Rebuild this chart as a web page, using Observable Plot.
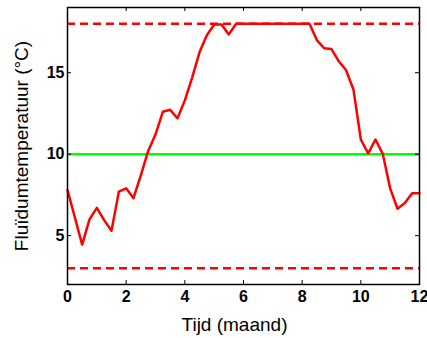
<!DOCTYPE html>
<html>
<head>
<meta charset="utf-8">
<script src="https://cdn.jsdelivr.net/npm/d3@7"></script>
<script src="https://cdn.jsdelivr.net/npm/@observablehq/plot@0.6"></script>
<style>
  html, body { margin: 0; padding: 0; background: #fff; }
</style>
</head>
<body>
<div id="chart"></div>
<script>
// Time (months) and fluid temperature (°C)
const months = [0, 0.5, 0.75, 1.0, 1.25, 1.5, 1.75, 2.0, 2.25, 2.5, 2.75, 3.0, 3.25, 3.5, 3.75, 4.0, 4.25, 4.5, 4.75, 5.0, 5.25, 5.5, 5.75, 6.0, 6.25, 6.5, 6.75, 7.0, 7.25, 7.5, 7.75, 8.0, 8.25, 8.5, 8.75, 9.0, 9.25, 9.5, 9.75, 10.0, 10.25, 10.5, 10.75, 11.0, 11.25, 11.5, 11.75, 12.0];
const temps  = [7.8, 4.45, 6.0, 6.7, 5.95, 5.3, 7.7, 7.9, 7.3, 8.7, 10.2, 11.2, 12.6, 12.72, 12.2, 13.3, 14.7, 16.25, 17.3, 17.95, 17.95, 17.35, 18, 18, 18, 18, 18, 18, 18, 18, 18, 18, 18, 17.0, 16.5, 16.45, 15.7, 15.15, 13.95, 10.9, 10.05, 10.9, 10.0, 7.9, 6.65, 7.0, 7.6, 7.6];
const limits = [3, 18];      // dashed red limits
const target = [10];         // green reference
const xTicks = [0, 2, 4, 6, 8, 10, 12];
const yTicks = [5, 10, 15];
const xLabel = "Tijd (maand)";
const yLabel = "Fluïdumtemperatuur (°C)";

const data = months.map((m, i) => ({month: m, temp: temps[i]}));

const W = 427, H = 338;
const mL = 67, mR = 8, mT = 7, mB = 54;
const fw = W - mL - mR, fh = H - mT - mB;
const tk = 4;

const chart = Plot.plot({
  width: W,
  height: H,
  marginLeft: mL,
  marginRight: mR,
  marginTop: mT,
  marginBottom: mB,
  style: {fontFamily: "'Liberation Sans', Arial, sans-serif", background: "#fff", overflow: "visible"},
  x: {domain: [0, 12]},
  y: {domain: [2, 19]},
  marks: [
    Plot.ruleY(limits, {y: d => d, stroke: "#ff0000", strokeWidth: 2.5, strokeDasharray: "8,5"}),
    Plot.ruleY(target, {y: d => d, stroke: "#00ff00", strokeWidth: 2.5}),
    Plot.line(data, {x: "month", y: "temp", stroke: "#ff0000", strokeWidth: 2.5, strokeLinejoin: "round"}),
    // inward ticks on all four sides
    Plot.ruleX(xTicks, {x: d => d, insetTop: fh - tk, stroke: "#000", strokeWidth: 1}),
    Plot.ruleX(xTicks, {x: d => d, insetBottom: fh - tk, stroke: "#000", strokeWidth: 1}),
    Plot.ruleY(yTicks, {y: d => d, insetRight: fw - tk, stroke: "#000", strokeWidth: 1}),
    Plot.ruleY(yTicks, {y: d => d, insetLeft: fw - tk, stroke: "#000", strokeWidth: 1}),
    Plot.frame({stroke: "#000", strokeWidth: 1.5}),
    Plot.axisX(xTicks, {anchor: "bottom", tickSize: 0, tickPadding: 6, label: null, fontSize: 16, fontWeight: "bold", fill: "#000"}),
    Plot.axisY(yTicks, {anchor: "left", tickSize: 0, tickPadding: 3, label: null, fontSize: 16, fontWeight: "bold", fill: "#000"}),
    Plot.text([xLabel], {frameAnchor: "bottom", text: d => d, dx: -9, dy: 40, lineAnchor: "middle", fontSize: 19, fill: "#000"}),
    Plot.text([yLabel], {frameAnchor: "left", text: d => d, dx: -46, rotate: -90, lineAnchor: "middle", textAnchor: "middle", fontSize: 19, fill: "#000"})
  ]
});
document.getElementById("chart").appendChild(chart);
</script>
</body>
</html>
